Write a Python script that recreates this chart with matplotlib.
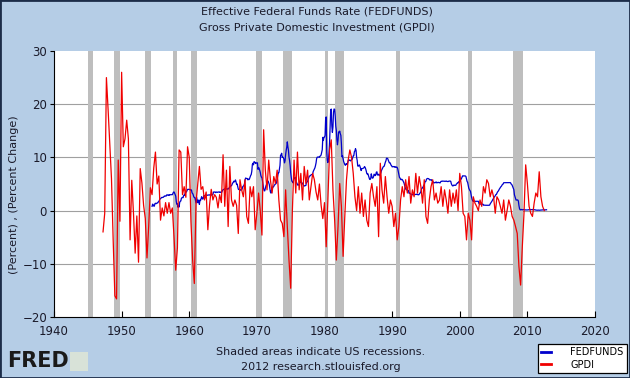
import matplotlib
matplotlib.use("Agg")
import matplotlib.pyplot as plt
from matplotlib.patches import Rectangle
import numpy as np

# Effective Federal Funds Rate, monthly, starting July 1954 (percent)
fedfunds_start = 1954.5
fedfunds = [
    0.80, 1.22, 1.07, 0.85, 0.83, 1.28,
    1.39, 1.29, 1.35, 1.43, 1.43, 1.64, 1.68, 1.96, 2.18, 2.24, 2.35, 2.48,
    2.45, 2.50, 2.50, 2.62, 2.75, 2.71, 2.75, 2.73, 2.95, 2.96, 2.88, 2.94,
    2.84, 3.00, 2.96, 3.00, 3.00, 3.00, 2.99, 3.24, 3.47, 3.50, 3.28, 2.98,
    2.72, 1.67, 1.20, 1.26, 0.63, 0.93, 0.68, 1.53, 1.76, 1.80, 2.27, 2.42,
    2.48, 2.43, 2.80, 2.96, 2.90, 3.39, 3.47, 3.50, 3.76, 3.98, 4.00, 3.99,
    3.99, 3.97, 3.84, 3.92, 3.85, 3.32, 3.23, 2.98, 2.60, 2.47, 2.44, 1.98,
    1.45, 2.54, 2.02, 1.49, 1.98, 1.73, 1.17, 2.00, 1.88, 2.26, 2.61, 2.33,
    2.15, 2.37, 2.85, 2.78, 2.36, 2.68, 2.71, 2.93, 2.90, 2.90, 2.94, 2.93,
    2.92, 3.00, 2.98, 2.90, 3.00, 2.99, 3.02, 3.49, 3.48, 3.50, 3.48, 3.38,
    3.48, 3.48, 3.43, 3.47, 3.50, 3.50, 3.42, 3.50, 3.45, 3.36, 3.52, 3.85,
    3.90, 3.98, 4.04, 4.09, 4.10, 4.04, 4.09, 4.12, 4.01, 4.08, 4.10, 4.32,
    4.42, 4.60, 4.65, 4.67, 4.90, 5.17, 5.30, 5.53, 5.40, 5.53, 5.76, 5.40,
    4.94, 5.00, 4.53, 4.05, 3.94, 3.98, 3.79, 3.90, 3.99, 3.88, 4.13, 4.51,
    4.60, 4.71, 5.05, 5.76, 6.12, 6.07, 6.02, 6.03, 5.78, 5.91, 5.82, 6.02,
    6.30, 6.61, 6.79, 7.41, 8.67, 8.90, 8.61, 9.19, 9.15, 9.00, 8.85, 8.97,
    8.98, 8.98, 7.76, 8.10, 7.95, 7.61, 7.21, 6.61, 6.29, 6.20, 5.60, 4.90,
    4.14, 3.72, 3.71, 4.16, 4.63, 4.91, 5.31, 5.56, 5.55, 5.20, 4.91, 4.14,
    3.50, 3.29, 3.83, 4.17, 4.27, 4.46, 4.55, 4.80, 4.87, 5.04, 5.06, 5.33,
    5.94, 6.58, 7.09, 7.12, 7.84, 8.49, 10.40, 10.50, 10.78, 10.01, 10.03, 9.95,
    9.65, 8.97, 9.35, 10.51, 11.31, 11.93, 12.92, 12.01, 11.34, 10.06, 9.45, 8.53,
    7.13, 6.24, 5.54, 5.49, 5.22, 5.55, 6.10, 6.14, 6.24, 5.82, 5.22, 5.20,
    4.87, 4.77, 4.84, 4.82, 5.29, 5.48, 5.31, 5.29, 5.25, 5.02, 4.95, 4.65,
    4.61, 4.68, 4.69, 4.73, 5.35, 5.39, 5.42, 5.90, 6.14, 6.47, 6.51, 6.56,
    6.70, 6.78, 6.79, 6.89, 7.36, 7.60, 7.81, 8.04, 8.45, 8.96, 9.76, 10.03,
    10.07, 10.06, 10.09, 10.01, 10.24, 10.29, 10.47, 10.94, 11.43, 13.77, 13.18, 13.78,
    13.82, 14.13, 17.19, 17.61, 10.98, 9.47, 9.03, 9.61, 10.87, 12.81, 15.85, 18.90,
    19.08, 15.93, 14.70, 15.72, 18.52, 19.10, 19.04, 17.82, 15.87, 15.08, 13.31, 12.37,
    13.22, 14.78, 14.68, 14.94, 14.45, 14.15, 12.59, 10.12, 10.31, 9.71, 9.20, 8.95,
    8.68, 8.51, 8.77, 8.80, 8.63, 8.98, 9.37, 9.56, 9.45, 9.48, 9.34, 9.47,
    9.56, 9.59, 9.91, 10.29, 10.32, 11.06, 11.23, 11.64, 11.30, 9.99, 9.43, 8.38,
    8.35, 8.50, 8.58, 8.27, 7.97, 7.53, 7.88, 7.90, 7.92, 7.99, 8.05, 8.27,
    8.14, 7.86, 7.48, 6.99, 6.85, 6.92, 6.56, 6.17, 5.89, 5.85, 6.04, 6.91,
    6.43, 6.10, 6.13, 6.37, 6.85, 6.73, 6.58, 6.73, 7.22, 7.29, 6.69, 6.77,
    6.83, 6.58, 6.58, 6.87, 7.09, 7.51, 7.75, 8.01, 8.19, 8.30, 8.35, 8.76,
    9.12, 9.36, 9.85, 9.84, 9.81, 9.53, 9.24, 8.99, 9.02, 8.84, 8.55, 8.45,
    8.23, 8.24, 8.28, 8.26, 8.18, 8.29, 8.15, 8.13, 8.20, 8.11, 7.81, 7.31,
    6.91, 6.25, 6.12, 5.91, 5.78, 5.90, 5.82, 5.66, 5.45, 5.21, 4.81, 4.43,
    4.03, 4.06, 3.98, 3.73, 3.82, 3.76, 3.25, 3.30, 3.22, 3.10, 3.09, 2.92,
    3.02, 3.03, 3.07, 2.96, 3.00, 3.04, 3.06, 3.03, 3.09, 2.99, 3.02, 2.96,
    3.05, 3.25, 3.34, 3.56, 4.01, 4.25, 4.26, 4.47, 4.73, 4.76, 5.29, 5.45,
    5.53, 5.92, 5.98, 6.05, 6.01, 6.00, 5.85, 5.74, 5.80, 5.76, 5.80, 5.60,
    5.56, 5.22, 5.31, 5.22, 5.24, 5.27, 5.40, 5.22, 5.30, 5.24, 5.31, 5.29,
    5.25, 5.19, 5.39, 5.51, 5.50, 5.56, 5.52, 5.54, 5.54, 5.50, 5.52, 5.50,
    5.56, 5.51, 5.49, 5.45, 5.49, 5.56, 5.54, 5.55, 5.51, 5.07, 4.83, 4.68,
    4.63, 4.76, 4.81, 4.74, 4.74, 4.76, 4.99, 5.07, 5.22, 5.20, 5.42, 5.30,
    5.45, 5.73, 5.85, 6.02, 6.27, 6.53, 6.54, 6.50, 6.52, 6.51, 6.51, 6.40,
    5.98, 5.49, 5.31, 4.80, 4.21, 3.97, 3.77, 3.65, 3.07, 2.49, 2.09, 1.82,
    1.73, 1.74, 1.73, 1.75, 1.75, 1.75, 1.73, 1.74, 1.75, 1.75, 1.34, 1.24,
    1.24, 1.26, 1.25, 1.26, 1.26, 1.22, 1.01, 1.03, 1.01, 1.01, 1.00, 0.98,
    1.00, 1.01, 1.00, 1.00, 1.00, 1.03, 1.26, 1.43, 1.61, 1.76, 1.93, 2.16,
    2.28, 2.50, 2.63, 2.79, 3.00, 3.04, 3.26, 3.50, 3.62, 3.78, 4.00, 4.16,
    4.29, 4.49, 4.59, 4.79, 4.94, 4.99, 5.24, 5.25, 5.25, 5.25, 5.25, 5.24,
    5.25, 5.26, 5.26, 5.25, 5.25, 5.25, 5.26, 5.02, 4.94, 4.76, 4.49, 4.24,
    3.94, 2.98, 2.61, 2.28, 1.98, 2.00, 2.01, 2.00, 1.81, 0.97, 0.39, 0.16,
    0.15, 0.22, 0.18, 0.15, 0.18, 0.21, 0.16, 0.16, 0.15, 0.12, 0.12, 0.12,
    0.11, 0.13, 0.16, 0.20, 0.20, 0.18, 0.18, 0.19, 0.19, 0.19, 0.19, 0.18,
    0.17, 0.16, 0.14, 0.10, 0.09, 0.09, 0.07, 0.10, 0.08, 0.07, 0.08, 0.07,
    0.08, 0.10, 0.13, 0.14, 0.16, 0.16, 0.16, 0.13, 0.14, 0.16, 0.16,
]

# Gross Private Domestic Investment, quarterly percent change, from 1947 Q2
gpdi_start = 1947.25
gpdi = [
    -4.0, -0.5, 25.0,
    19.0, 12.5, 6.0, -5.5,
    -16.0, -16.6, 9.5, -2.0,
    26.0, 12.0, 13.5, 17.0,
    13.5, -5.5, 5.7, -0.4,
    -8.0, -1.0, -9.7, 7.9,
    5.2, 1.0, -1.5, -8.9,
    -3.0, 4.3, 3.0, 8.0,
    11.0, 5.0, 6.5, -1.8,
    0.5, -1.0, 1.5, -0.5,
    1.5, -0.5, 0.5, -5.0,
    -11.2, -7.0, 11.4, 11.0,
    3.0, 4.5, 2.5, 12.0,
    10.0, -2.0, -9.3, -13.7,
    1.5, 5.0, 8.3, 4.0,
    4.5, 2.0, 3.5, -3.6,
    1.0, 4.0, 2.0, 3.0,
    2.5, 0.5, 3.0, 1.5,
    10.5, 0.8, 7.6, -3.0,
    8.3, 2.0, 0.8, 2.0,
    1.0, -4.3, 5.8, 3.9,
    2.6, 5.8, -1.1, -2.4,
    4.5, 2.6, 4.5, -3.6,
    -0.5, 3.3, 0.0, -4.6,
    15.2, 7.6, 3.9, 9.5,
    5.8, 3.3, 6.4, 5.1,
    7.6, 2.0, -1.8, -2.4,
    -4.9, 3.9, -3.0, -9.3,
    -14.6, 0.0, 9.5, 3.3,
    11.0, 3.9, 7.0, 2.0,
    8.3, 5.1, 7.6, 2.0,
    4.5, 7.0, 5.8, 3.5,
    2.0, 5.0, 1.0, -1.5,
    1.5, -6.8, 2.0, 11.4,
    13.3, 3.9, -1.8, -9.3,
    -3.0, 5.1, 0.8, -8.6,
    -1.1, 5.8, 9.5, 11.4,
    10.0, 7.0, 2.6, 0.0,
    4.5, -0.5, 3.3, -1.1,
    2.0, -1.8, -3.0, 3.3,
    5.1, 2.6, 0.8, 4.5,
    -4.9, 8.9, 3.9, 1.4,
    6.4, 2.6, -0.5, 2.0,
    0.8, -3.0, -0.5, -5.5,
    -3.0, 2.0, 4.5, 2.6,
    5.8, 3.3, 6.4, 1.4,
    3.9, 2.6, 7.0, 3.3,
    6.4, 4.5, 1.4, 5.8,
    -1.1, -2.4, 2.0, 4.5,
    5.8, 2.0, 3.3, 1.4,
    2.0, 4.5, 0.8, 3.9,
    2.0, -0.5, 3.9, 0.8,
    3.3, 1.4, 3.9, 0.0,
    7.0, 4.5, -0.5, -1.1,
    -5.5, -0.5, -1.8, -5.5,
    2.6, 1.4, 0.8, 0.0,
    2.0, 0.8, 4.5, 3.3,
    5.8, 5.1, 2.6, 3.9,
    2.6, -0.5, 2.6, 2.0,
    0.8, -0.5, 2.0, -1.8,
    0.0, 2.0, 0.8, -1.1,
    -1.8, -3.0, -4.3, -10.5,
    -14.0, -6.8, -0.5, 8.6,
    5.1, 0.8, -0.5, -1.1,
    1.4, 3.3, 2.6, 7.3,
    2.6, 0.8, 0.0,
]

# US recessions (peak, trough) as decimal years
rec_start = [1945.08, 1948.83, 1953.5, 1957.58, 1960.25, 1969.92,
             1973.83, 1980.0, 1981.5, 1990.5, 2001.17, 2007.92]
rec_end = [1945.75, 1949.75, 1954.33, 1958.25, 1961.08, 1970.83,
           1975.17, 1980.5, 1982.83, 1991.17, 2001.83, 2009.42]

ff_dates = fedfunds_start + np.arange(len(fedfunds)) / 12.0
gpdi_dates = gpdi_start + np.arange(len(gpdi)) / 4.0

bg = '#B5CDE6'
fig = plt.figure(figsize=(6.3, 3.78), dpi=100, facecolor=bg)
fig.patches.append(Rectangle((0, 0), 1, 1, transform=fig.transFigure,
                             fill=False, edgecolor='#1c2c48', lw=2))

ax = fig.add_axes([54 / 630, 61 / 378, 541 / 630, 266 / 378])
ax.set_facecolor('white')

for s, e in zip(rec_start, rec_end):
    ax.axvspan(s, e, color='#BEBEBE', lw=0, zorder=1)

l1, = ax.plot(ff_dates, fedfunds, color='#0000CC', lw=0.9, zorder=3, label='FEDFUNDS')
l2, = ax.plot(gpdi_dates, gpdi, color='#F00000', lw=0.9, zorder=4, label='GPDI')

ax.set_xlim(1940, 2020)
ax.set_ylim(-20, 30)
ax.set_xticks(range(1940, 2021, 10))
ax.set_yticks(range(-20, 31, 10))
ax.set_axisbelow(True)
ax.grid(axis='y', color='#A0A0A0', lw=0.8)
ax.get_ygridlines()[-1].set_visible(False)
ax.get_ygridlines()[0].set_visible(False)

ax.spines['top'].set_visible(False)
ax.spines['right'].set_visible(False)
ax.spines['left'].set_color('black')
ax.spines['bottom'].set_color('black')
ax.tick_params(axis='x', direction='in', length=4, labelsize=8.5, pad=6, colors='black')
ax.tick_params(axis='y', direction='out', length=3, labelsize=8.5, pad=2, colors='black')
for lab in ax.get_xticklabels() + ax.get_yticklabels():
    lab.set_color('#1a1a2a')

fig.text(317 / 630, 1 - 12 / 378, 'Effective Federal Funds Rate (FEDFUNDS)',
         ha='center', va='center', fontsize=8, color='#1a1a2a')
fig.text(317 / 630, 1 - 27 / 378, 'Gross Private Domestic Investment (GPDI)',
         ha='center', va='center', fontsize=8, color='#1a1a2a')
fig.text(14 / 630, 1 - 195 / 378, '(Percent) , (Percent Change)', rotation=90,
         ha='center', va='center', fontsize=8, color='#1a1a2a')
fig.text(321 / 630, 1 - 352 / 378, 'Shaded areas indicate US recessions.',
         ha='center', va='center', fontsize=8, color='#1a1a2a')
fig.text(321 / 630, 1 - 367 / 378, '2012 research.stlouisfed.org',
         ha='center', va='center', fontsize=8, color='#1a1a2a')

# FRED logo
fig.text(7 / 630, 1 - 361 / 378, 'FRED', ha='left', va='center', fontsize=15,
         weight='heavy', color='#1a1a1a')
fig.patches.append(Rectangle((70 / 630, 1 - 371 / 378), 18 / 630, 19 / 378,
                             transform=fig.transFigure, facecolor='#D8E2D8',
                             edgecolor='none'))

leg = fig.legend(handles=[l1, l2], loc='lower right',
                 bbox_to_anchor=(627 / 630, 5 / 378), fontsize=7, frameon=True,
                 fancybox=False, edgecolor='black', framealpha=1,
                 handlelength=1.0, borderpad=0.35, labelspacing=0.25,
                 handletextpad=2.0, borderaxespad=0)
leg.get_frame().set_linewidth(0.9)
for h in leg.get_lines():
    h.set_linewidth(2)

plt.savefig('out.png', dpi=100, facecolor=fig.get_facecolor())
